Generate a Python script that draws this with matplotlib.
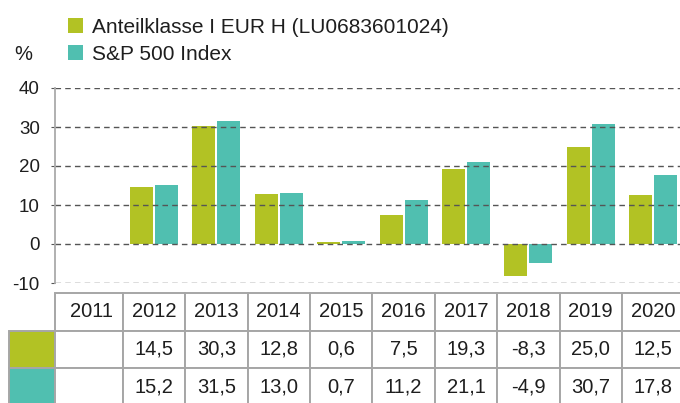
import numpy as np
import matplotlib
matplotlib.use("Agg")
import matplotlib.pyplot as plt
from matplotlib.patches import Rectangle

plt.rcParams['font.family'] = ['Liberation Sans', 'DejaVu Sans']
plt.rcParams['axes.unicode_minus'] = False

years = ['2011', '2012', '2013', '2014', '2015', '2016', '2017', '2018', '2019', '2020']
fund = [np.nan, 14.5, 30.3, 12.8, 0.6, 7.5, 19.3, -8.3, 25.0, 12.5]
index = [np.nan, 15.2, 31.5, 13.0, 0.7, 11.2, 21.1, -4.9, 30.7, 17.8]
labels = ['Anteilklasse I EUR H (LU0683601024)', 'S&P 500 Index']
yticks = [-10, 0, 10, 20, 30, 40]

green = '#b2c224'
teal = '#50bfb0'
grid_c = '#555555'
cell_c = '#a6a6a6'
txt_c = '#1e1e1e'

W, H = 680, 403
fig = plt.figure(figsize=(W / 100, H / 100), dpi=100)

# pixel geometry
ax_l, ax_r, ax_t, ax_b = 55, 680, 88, 283
c0, step = 91.6, 62.4  # centre of first column, column width (px)
x_left = (ax_l - c0) / step
x_right = (ax_r - c0) / step

ax = fig.add_axes([ax_l / W, 1 - ax_b / H, (ax_r - ax_l) / W, (ax_b - ax_t) / H])
x = np.arange(len(years))
bw = 0.37
ax.bar(x - 0.2, fund, bw, color=green, zorder=2, label=labels[0])
ax.bar(x + 0.2, index, bw, color=teal, zorder=2, label=labels[1])

ax.set_xlim(x_left, x_right)
ax.set_ylim(-10, 40)
ax.set_yticks(yticks)
ax.set_xticks([])
for t in yticks:
    ax.axhline(t, color=grid_c, lw=1, ls=(0, (4, 3)), zorder=3)
for s in ['top', 'right', 'bottom']:
    ax.spines[s].set_visible(False)
ax.spines['left'].set_color('#aaaaaa')
ax.spines['left'].set_linewidth(1.3)
ax.spines['left'].set_zorder(4)
ax.tick_params(axis='y', length=3, color=grid_c, pad=8, labelsize=13.5, labelcolor=txt_c)

fig.text(14 / W, 1 - 55 / H, '%', fontsize=14.5, color=txt_c, va='center', ha='left')

fig.legend(loc='upper left', bbox_to_anchor=(68 / W, 1 - 18 / H), frameon=False,
           fontsize=15, handlelength=0.72, handleheight=0.72, handletextpad=0.45,
           labelspacing=0.38, borderpad=0, borderaxespad=0, labelcolor=txt_c)

# table below the chart
tb_top = 293
rh = 37.5
tax = fig.add_axes([0, 0, 1, (H - tb_top) / H])
tax.set_xlim((0 - c0) / step, x_right)
tax.set_ylim((H - tb_top) / rh, 0)
tax.axis('off')

sw_l = (9 - c0) / step
bounds = [x_left] + [i + 0.5 for i in range(len(years))]

def cell(x0, x1, r, fc='white'):
    tax.add_patch(Rectangle((x0, r), x1 - x0, 1, facecolor=fc, edgecolor=cell_c,
                            lw=1.4, clip_on=False))

for i, yr in enumerate(years):
    cell(bounds[i], bounds[i + 1], 0)
    tax.text(i, 0.5, yr, ha='center', va='center', fontsize=14.5, color=txt_c)

for r, (vals, col) in enumerate([(fund, green), (index, teal)], start=1):
    cell(sw_l, x_left, r, fc=col)
    for i, v in enumerate(vals):
        cell(bounds[i], bounds[i + 1], r)
        if not np.isnan(v):
            tax.text(i, r + 0.5, f'{v:.1f}'.replace('.', ','), ha='center', va='center',
                     fontsize=14.5, color=txt_c)

fig.savefig('out.png', dpi=100)
